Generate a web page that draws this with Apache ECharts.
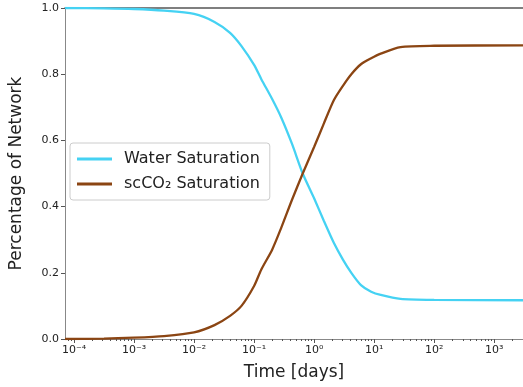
<!DOCTYPE html>
<html>
<head>
<meta charset="utf-8">
<script src="https://cdn.jsdelivr.net/npm/echarts@6/dist/echarts.min.js"></script>
<style>
    html, body { margin: 0; padding: 0; background: #fff; }
    #chart { width: 523px; height: 387px; }
</style>
</head>
<body>
<div id="chart"></div>
<script>
    // time in days (log axis)
    var timeDays = [7.08e-5, 3.16e-4, 1e-3, 3.16e-3, 0.01, 0.0219, 0.0398, 0.0617, 0.1, 0.132,
        0.2, 0.282, 0.427, 0.646, 1, 1.445, 2.138, 3.02, 4.17, 6.03, 8.91, 12.88, 27.5, 100, 3020];
    var waterSat = [1.000, 0.999, 0.997, 0.992, 0.982, 0.958, 0.925, 0.885, 0.828, 0.785,
        0.725, 0.67, 0.59, 0.50, 0.425, 0.358, 0.29, 0.24, 0.20, 0.163, 0.143, 0.133, 0.121, 0.118, 0.117];
    var co2Sat = [0.000, 0.001, 0.004, 0.009, 0.02, 0.042, 0.07, 0.10, 0.16, 0.21,
        0.27, 0.335, 0.42, 0.50, 0.58, 0.65, 0.722, 0.765, 0.80, 0.83, 0.848, 0.862, 0.882, 0.886, 0.887];
    var majorTicks = [1e-4, 1e-3, 1e-2, 1e-1, 1, 10, 100, 1000];
    var minorTicks = [];
    var xMin = 7.08e-5, xMax = 3020;

    for (var n = -5; n <= 3; n++) {
        for (var k = 2; k <= 9; k++) {
            var v = k * Math.pow(10, n);
            if (v > xMin && v < xMax) minorTicks.push(v);
        }
    }

    var supMap = { '-': '\u207b', '0': '\u2070', '1': '\u00b9', '2': '\u00b2', '3': '\u00b3',
        '4': '\u2074', '5': '\u2075', '6': '\u2076', '7': '\u2077', '8': '\u2078', '9': '\u2079' };
    function powLabel(val) {
        var e = String(Math.round(Math.log10(val)));
        var s = '';
        for (var i = 0; i < e.length; i++) s += supMap[e[i]];
        return '10' + s;
    }

    function pairs(xs, ys) {
        return xs.map(function (x, i) { return [x, ys[i]]; });
    }

    var font = 'DejaVu Sans';
    var myChart = echarts.init(document.getElementById('chart'));
    var option = {
        backgroundColor: '#fff',
        animation: false,
        grid: { left: 63, top: 8, right: 0, bottom: 48 },
        legend: {
            left: 70, top: 143,
            orient: 'vertical',
            padding: [8, 10, 8, 7],
            itemGap: 9,
            itemWidth: 35,
            itemHeight: 3,
            icon: 'rect',
            backgroundColor: 'rgba(255,255,255,0.8)',
            borderColor: '#ccc',
            borderWidth: 1,
            borderRadius: 3,
            textStyle: { fontFamily: font, fontSize: 16, color: '#222', padding: [0, 0, 0, 7] },
            data: ['Water Saturation', 'scCO\u2082 Saturation']
        },
        xAxis: [
            {   // main axis: major ticks + labels
                type: 'log', min: xMin, max: xMax,
                name: 'Time [days]', nameLocation: 'middle', nameGap: 25,
                nameTextStyle: { fontFamily: font, fontSize: 17, color: '#222' },
                axisLine: { lineStyle: { color: '#888', width: 1 } },
                axisTick: { show: true, length: 4, customValues: majorTicks, lineStyle: { color: '#555' } },
                axisLabel: {
                    customValues: majorTicks, formatter: powLabel, margin: 6,
                    fontFamily: font, fontSize: 11, color: '#222'
                },
                splitLine: { show: false }, minorTick: { show: false }
            },
            {   // minor ticks
                type: 'log', min: xMin, max: xMax, position: 'bottom',
                axisLine: { show: false },
                axisTick: { show: true, length: 2, customValues: minorTicks, lineStyle: { color: '#555' } },
                axisLabel: { show: false }, splitLine: { show: false }
            },
            {   // top spine
                type: 'log', min: xMin, max: xMax, position: 'top',
                axisLine: { lineStyle: { color: '#555', width: 1.5 } },
                axisTick: { show: false }, axisLabel: { show: false }, splitLine: { show: false }
            }
        ],
        yAxis: {
            type: 'value', min: 0, max: 1, interval: 0.2,
            name: 'Percentage of Network', nameLocation: 'middle', nameGap: 40,
            nameTextStyle: { fontFamily: font, fontSize: 17, color: '#222' },
            axisLine: { show: true, lineStyle: { color: '#888', width: 1 } },
            axisTick: { show: true, length: 4, lineStyle: { color: '#555' } },
            axisLabel: {
                formatter: function (v) { return v.toFixed(1); }, margin: 6,
                fontFamily: font, fontSize: 11, color: '#222'
            },
            splitLine: { show: false }
        },
        series: [
            {
                name: 'Water Saturation', type: 'line', xAxisIndex: 0,
                showSymbol: false, color: '#45d2f3', smooth: 0.25,
                lineStyle: { width: 2.3 },
                data: pairs(timeDays, waterSat)
            },
            {
                name: 'scCO\u2082 Saturation', type: 'line', xAxisIndex: 0,
                showSymbol: false, color: '#8b4513', smooth: 0.25,
                lineStyle: { width: 2.3 },
                data: pairs(timeDays, co2Sat)
            }
        ]
    };
    myChart.setOption(option);
</script>
</body>
</html>
